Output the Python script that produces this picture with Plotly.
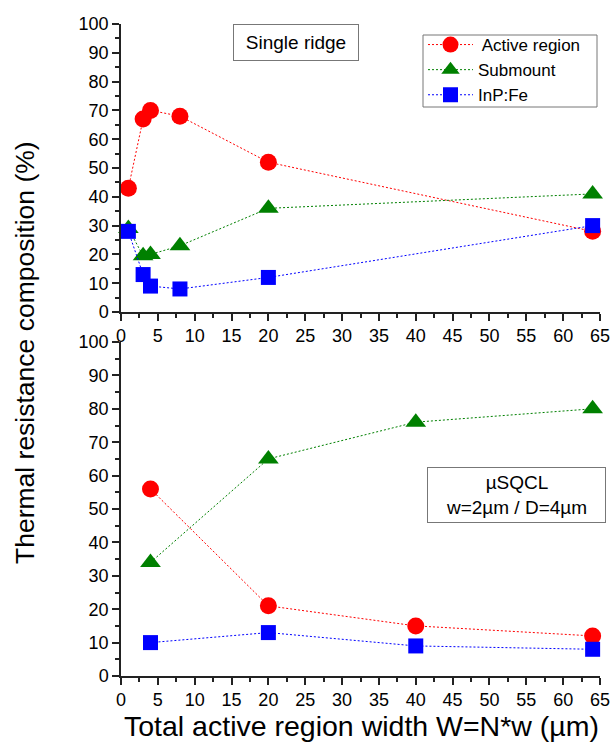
import plotly.graph_objects as go

W, H = 612, 749

# ---- data ----
top_x = [1, 3, 4, 8, 20, 64]
top_active = [43, 67, 70, 68, 52, 28]
top_submount = [29, 19.5, 20, 23, 36, 41]
top_inp = [28, 13, 9, 8, 12, 30]

bot_x = [4, 20, 40, 64]
bot_active = [56, 21, 15, 12]
bot_submount = [34, 65, 76, 80]
bot_inp = [10, 13, 9, 8]

names = [" Active region", "Submount", "InP:Fe"]
colors = ["#ff0000", "#008000", "#0000ff"]
symbols = ["circle", "triangle-up", "square"]
sizes = [17, 18, 15]

FONT = "Liberation Sans, Arial, sans-serif"

fig = go.Figure()

def add_series(x, ys, xa, ya, show):
    for y, n, c, s, sz in zip(ys, names, colors, symbols, sizes):
        fig.add_trace(go.Scatter(
            x=x, y=y, mode="lines+markers", name=n, showlegend=show,
            legendgroup=n, xaxis=xa, yaxis=ya, cliponaxis=False,
            line=dict(color=c, width=1, dash="2px,2px"),
            marker=dict(symbol=s, size=sz, color=c, line=dict(width=0)),
        ))

add_series(top_x, [top_active, top_submount, top_inp], "x", "y", True)
add_series(bot_x, [bot_active, bot_submount, bot_inp], "x2", "y2", False)

def px_x(p):
    return p / W

def px_y(p):
    return 1 - p / H

axis_common = dict(
    showline=True, linecolor="#222222", linewidth=1.5,
    ticks="outside", ticklen=7, tickwidth=1.5, tickcolor="#222222",
    showgrid=False, zeroline=False, mirror=False,
    tickfont=dict(family=FONT, size=18, color="black"),
    automargin=False,
)
minor_x = dict(ticks="outside", ticklen=4, dtick=2.5, tickwidth=1.5, tickcolor="#222222")
minor_y = dict(ticks="outside", ticklen=4, dtick=5, tickwidth=1.5, tickcolor="#222222")

xdom = [px_x(121), px_x(600)]
fig.update_layout(
    width=W, height=H,
    margin=dict(l=0, r=0, t=0, b=0),
    paper_bgcolor="white", plot_bgcolor="white",
    font=dict(family=FONT, color="black"),
    xaxis=dict(domain=xdom, range=[0, 65], dtick=5, tick0=0, anchor="y",
               minor=minor_x, **axis_common),
    yaxis=dict(domain=[px_y(312), px_y(24)], range=[0, 100], dtick=10, tick0=0, anchor="x",
               minor=minor_y, **axis_common),
    xaxis2=dict(domain=xdom, range=[0, 65], dtick=5, tick0=0, anchor="y2",
                minor=minor_x, **axis_common),
    yaxis2=dict(domain=[px_y(676), px_y(342)], range=[0, 100], dtick=10, tick0=0, anchor="x2",
                minor=minor_y, **axis_common),
    legend=dict(
        x=px_x(423), y=px_y(27), xanchor="left", yanchor="top",
        borderwidth=0, bgcolor="rgba(0,0,0,0)",
        font=dict(size=17, family=FONT),
        itemwidth=45, tracegroupgap=0,
    ),
    showlegend=True,
)

# legend frame
fig.add_shape(type="rect", xref="paper", yref="paper",
              x0=px_x(423), x1=px_x(597), y0=px_y(107), y1=px_y(35),
              line=dict(color="#777777", width=1), fillcolor="white", layer="below")

fig.add_annotation(
    x=px_x(296), y=px_y(42.5), xref="paper", yref="paper",
    xanchor="center", yanchor="middle",
    text="Single ridge", showarrow=False,
    font=dict(size=19, family=FONT),
    bordercolor="#777777", borderwidth=1, bgcolor="white",
    width=124, height=35, borderpad=0,
)
fig.add_annotation(
    x=px_x(516.5), y=px_y(495), xref="paper", yref="paper",
    xanchor="center", yanchor="middle",
    text="µSQCL<br>w=2µm / D=4µm", showarrow=False,
    font=dict(size=19, family=FONT),
    bordercolor="#777777", borderwidth=1, bgcolor="white",
    width=177, height=54, borderpad=0,
)
fig.add_annotation(
    x=px_x(25), y=px_y(353), xref="paper", yref="paper",
    xanchor="center", yanchor="middle",
    text="Thermal resistance composition (%)", showarrow=False, textangle=-90,
    font=dict(size=26.5, family=FONT),
)
fig.add_annotation(
    x=px_x(361), y=px_y(726), xref="paper", yref="paper",
    xanchor="center", yanchor="middle",
    text="Total active region width W=N*w (µm)", showarrow=False,
    font=dict(size=28.5, family=FONT),
)

fig.write_html("out.html", config={"displayModeBar": False},
               post_script="document.body.style.margin='0px';")
